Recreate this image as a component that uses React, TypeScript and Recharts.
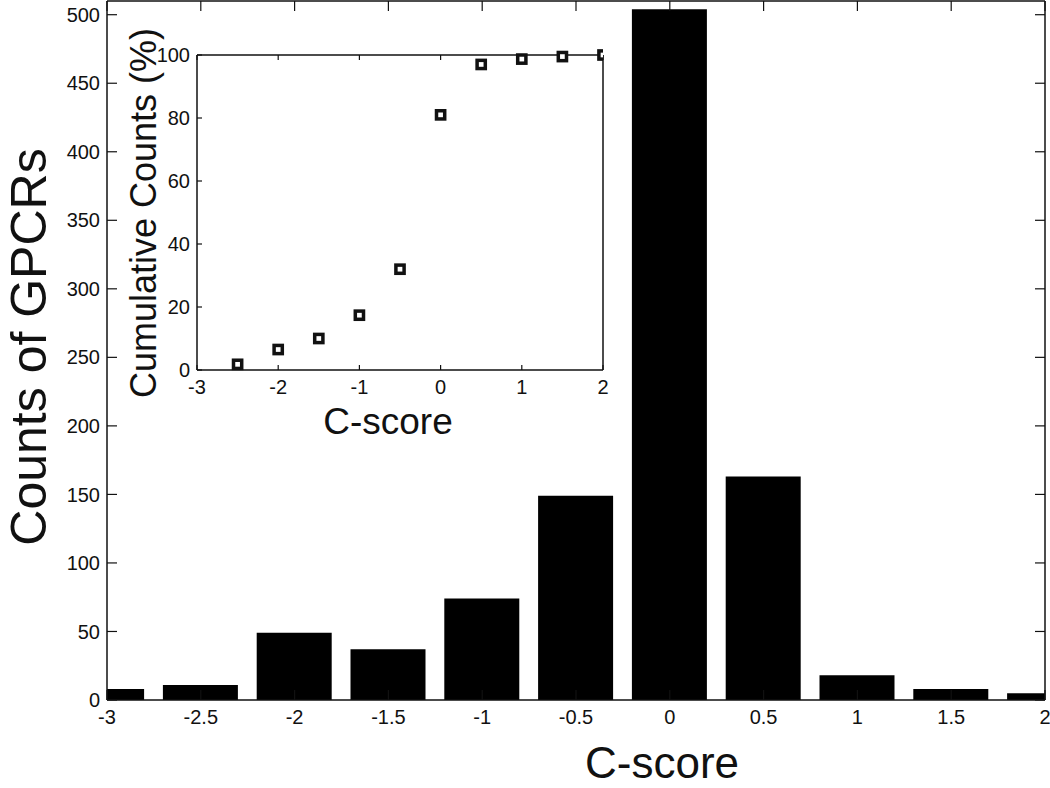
import React from 'react'
import {
  BarChart,
  Bar,
  ScatterChart,
  Scatter,
  XAxis,
  YAxis,
} from 'recharts'

// histogram of C-scores (main chart)
const cScores = [-3, -2.5, -2, -1.5, -1, -0.5, 0, 0.5, 1, 1.5, 2]
const counts = [8, 11, 49, 37, 74, 149, 504, 163, 18, 8, 5]
const countTicks = [0, 50, 100, 150, 200, 250, 300, 350, 400, 450, 500]

// cumulative percentage (inset)
const cumScores = [-2.5, -2, -1.5, -1, -0.5, 0, 0.5, 1, 1.5, 2]
const cumPercent = [1.8, 6.5, 10, 17.4, 32, 81, 97, 98.7, 99.5, 100]
const insetXTicks = [-3, -2, -1, 0, 1, 2]
const insetYTicks = [0, 20, 40, 60, 80, 100]

const FONT = '"Liberation Sans", Arial, sans-serif'
const INK = '#111'

const histData = cScores.map((x, i) => ({ x, count: counts[i] }))
const cumData = cumScores.map((x, i) => ({ x, pct: cumPercent[i] }))

const blank = () => ''

const HollowSquare = (props: any) => {
  const { cx, cy } = props
  if (cx == null || cy == null) return null
  return (
    <rect x={cx - 4.1} y={cy - 4.1} width={8.2} height={8.2} fill="#fff" stroke={INK} strokeWidth={3.5} />
  )
}

function Title({
  text,
  x,
  y,
  size,
  vertical = false,
}: {
  text: string
  x: number
  y: number
  size: number
  vertical?: boolean
}) {
  return (
    <div
      style={{
        position: 'absolute',
        left: x,
        top: y,
        fontFamily: FONT,
        fontSize: size,
        lineHeight: 1.12,
        whiteSpace: 'nowrap',
        color: INK,
        transform: `translate(-50%, -50%)${vertical ? ' rotate(-90deg)' : ''}`,
      }}
    >
      {text}
    </div>
  )
}

export default function App() {
  const axisLine = { stroke: INK, strokeWidth: 1.5 }
  const tickLine = { stroke: INK, strokeWidth: 1.2 }
  const tickFont = { fontSize: 20, fill: INK, fontFamily: FONT }
  const insetTickFont = { fontSize: 20, fill: INK, fontFamily: FONT }

  return (
    <div
      style={{
        position: 'absolute',
        left: 0,
        top: 0,
        width: 1050,
        height: 788,
        background: '#fff',
        overflow: 'hidden',
      }}
    >
      <div style={{ position: 'absolute', left: 0, top: 0 }}>
        <BarChart
          width={1050}
          height={788}
          data={histData}
          margin={{ top: 0, right: 4, bottom: 87, left: 106 }}
        >
          <XAxis
            dataKey="x"
            type="number"
            domain={[-3, 2]}
            ticks={cScores}
            allowDataOverflow
            height={1}
            axisLine={axisLine}
            tickLine={tickLine}
            tickSize={-10}
            tickMargin={20}
            tick={tickFont}
            interval={0}
          />
          <XAxis
            xAxisId="top"
            orientation="top"
            dataKey="x"
            type="number"
            domain={[-3, 2]}
            ticks={cScores}
            allowDataOverflow
            height={1}
            axisLine={axisLine}
            tickLine={tickLine}
            tickSize={-10}
            tickFormatter={blank}
            interval={0}
          />
          <YAxis
            type="number"
            domain={[0, 510]}
            ticks={countTicks}
            allowDataOverflow
            width={1}
            axisLine={axisLine}
            tickLine={tickLine}
            tickSize={-10}
            tickMargin={17}
            tick={tickFont}
            interval={0}
          />
          <YAxis
            yAxisId="right"
            orientation="right"
            type="number"
            domain={[0, 510]}
            ticks={countTicks}
            allowDataOverflow
            width={1}
            axisLine={axisLine}
            tickLine={tickLine}
            tickSize={-10}
            tickFormatter={blank}
            interval={0}
          />
          <Bar dataKey="count" fill="#000" barSize={75} isAnimationActive={false} />
        </BarChart>
      </div>

      <div style={{ position: 'absolute', left: 0, top: 0 }}>
        <ScatterChart
          width={620}
          height={450}
          margin={{ top: 54, right: 16, bottom: 79, left: 196 }}
        >
          <XAxis
            dataKey="x"
            type="number"
            domain={[-3, 2]}
            ticks={insetXTicks}
            allowDataOverflow
            height={1}
            axisLine={axisLine}
            tickLine={tickLine}
            tickSize={-5}
            tickMargin={15}
            tick={insetTickFont}
            interval={0}
          />
          <XAxis
            xAxisId="top"
            orientation="top"
            dataKey="x"
            type="number"
            domain={[-3, 2]}
            ticks={insetXTicks}
            allowDataOverflow
            height={1}
            axisLine={axisLine}
            tickLine={tickLine}
            tickSize={-5}
            tickFormatter={blank}
            interval={0}
          />
          <YAxis
            dataKey="pct"
            type="number"
            domain={[0, 100]}
            ticks={insetYTicks}
            width={1}
            axisLine={axisLine}
            tickLine={tickLine}
            tickSize={-5}
            tickMargin={12}
            tick={insetTickFont}
            interval={0}
          />
          <YAxis
            yAxisId="right"
            orientation="right"
            dataKey="pct"
            type="number"
            domain={[0, 100]}
            ticks={insetYTicks}
            width={1}
            axisLine={axisLine}
            tickLine={tickLine}
            tickSize={-5}
            tickFormatter={blank}
            interval={0}
          />
          <Scatter data={cumData} shape={HollowSquare} isAnimationActive={false} />
        </ScatterChart>
      </div>

      <Title text="Counts of GPCRs" x={29} y={347} size={50} vertical />
      <Title text="C-score" x={662} y={763} size={44} />
      <Title text="Cumulative Counts (%)" x={144} y={213} size={36} vertical />
      <Title text="C-score" x={388} y={422} size={37} />
    </div>
  )
}
